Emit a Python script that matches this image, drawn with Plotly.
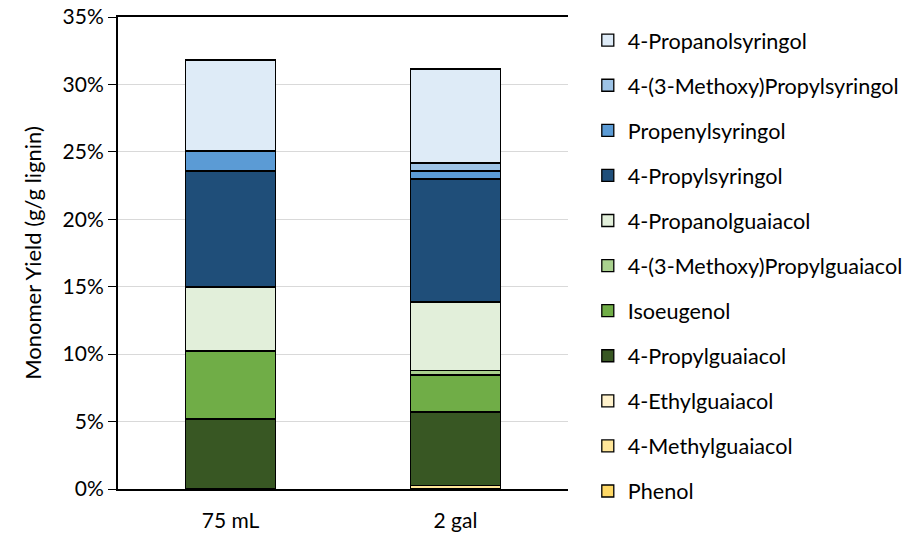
import plotly.graph_objects as go

categories = ["75 mL", "2 gal"]

compounds = [
    "Phenol",
    "4-Methylguaiacol",
    "4-Ethylguaiacol",
    "4-Propylguaiacol",
    "Isoeugenol",
    "4-(3-Methoxy)Propylguaiacol",
    "4-Propanolguaiacol",
    "4-Propylsyringol",
    "Propenylsyringol",
    "4-(3-Methoxy)Propylsyringol",
    "4-Propanolsyringol",
]

# yields in % (g/g lignin)
phenol = [0.0, 0.0]
methylguaiacol = [0.0, 0.25]
ethylguaiacol = [0.0, 0.0]
propylguaiacol = [5.2, 5.45]
isoeugenol = [5.03, 2.75]
methoxypropylguaiacol = [0.0, 0.34]
propanolguaiacol = [4.75, 5.08]
propylsyringol = [8.6, 9.12]
propenylsyringol = [1.48, 0.59]
methoxypropylsyringol = [0.0, 0.59]
propanolsyringol = [6.75, 6.97]

series = [phenol, methylguaiacol, ethylguaiacol, propylguaiacol, isoeugenol,
          methoxypropylguaiacol, propanolguaiacol, propylsyringol,
          propenylsyringol, methoxypropylsyringol, propanolsyringol]

colors = ["#FFD966", "#FFE699", "#FFF2CC", "#385723", "#70AD47", "#A9D18E",
          "#E2EFDA", "#1F4E79", "#5B9BD5", "#9DC3E6", "#DEEBF7"]

tick_vals = [0, 5, 10, 15, 20, 25, 30, 35]
tick_text = ["0%", "5%", "10%", "15%", "20%", "25%", "30%", "35%"]

fig = go.Figure()
for i, (name, vals, col) in enumerate(zip(compounds, series, colors)):
    fig.add_trace(go.Bar(
        x=categories, y=vals, name=name, legendgroup=name,
        legendrank=1000 - i,
        marker=dict(color=col, line=dict(color="#000000", width=1.3)),
    ))

font_family = "Lato, 'Open Sans', sans-serif"
fig.update_layout(
    barmode="stack",
    bargap=0.6,
    width=916, height=533,
    margin=dict(l=110, r=356, t=9, b=52),
    plot_bgcolor="white", paper_bgcolor="white",
    font=dict(family=font_family, size=21, color="#000000"),
    showlegend=True,
    legend=dict(
        traceorder="grouped",
        tracegroupgap=14,
        x=1.044, y=0.9944, xanchor="left", yanchor="top",
        font=dict(size=21.6, family=font_family),
        itemwidth=30,
        maxheight=600,
        bgcolor="rgba(0,0,0,0)",
    ),
    xaxis=dict(
        showline=True, linecolor="#000000", linewidth=2, mirror=True,
        ticks="outside", ticklen=12, tickcolor="rgba(0,0,0,0)",
        tickfont=dict(size=21), automargin=False,
    ),
    yaxis=dict(
        range=[0, 35], tickvals=tick_vals, ticktext=tick_text,
        showgrid=True, gridcolor="#D9D9D9", gridwidth=1,
        showline=True, linecolor="#000000", linewidth=2,
        ticks="outside", ticklen=8, tickcolor="#000000",
        tickfont=dict(size=21), ticklabeloverflow="allow",
        title=dict(text="Monomer Yield (g/g lignin)", font=dict(size=22), standoff=15),
        zeroline=False, automargin=False,
    ),
)

fig.write_html("out.html")
